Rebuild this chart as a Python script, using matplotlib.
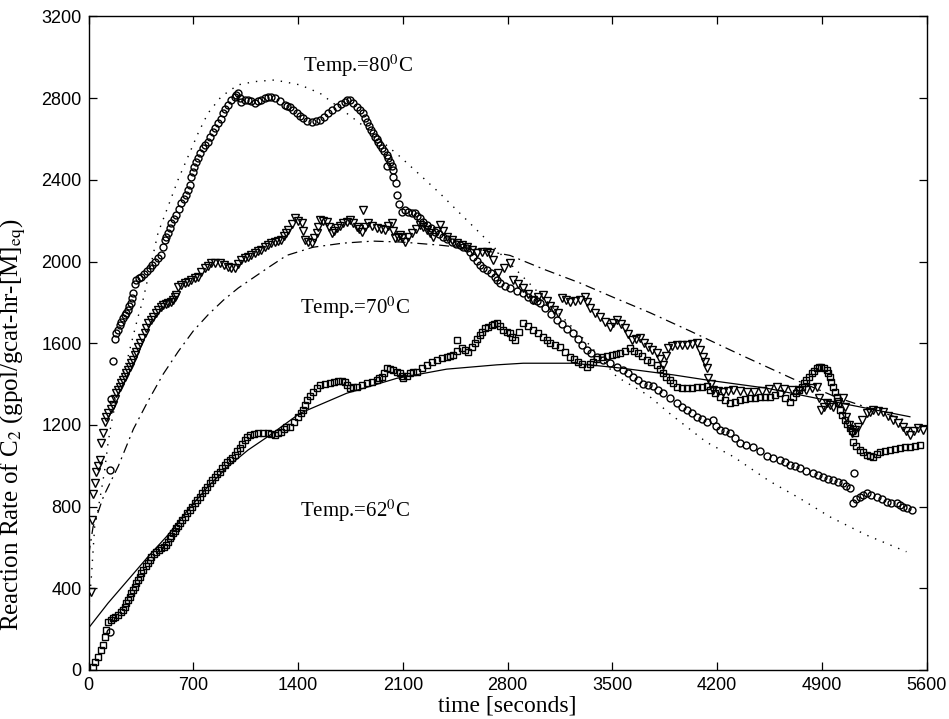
import matplotlib
matplotlib.use("Agg")
import matplotlib.pyplot as plt

plt.rcParams['mathtext.fontset'] = 'stix'

pts80 = [(144, 979), (144, 188), (152, 1326), (164, 1515), (175, 1620), (186, 1650), (197, 1665), (208, 1690),
         (219, 1706), (230, 1725), (242, 1738), (253, 1750), (264, 1763), (273, 1780), (282, 1796), (290, 1820),
         (297, 1845), (308, 1890), (319, 1910), (336, 1918), (353, 1926), (370, 1940), (390, 1955), (409, 1968),
         (425, 1985), (442, 2000), (464, 2015), (486, 2033), (498, 2070), (509, 2106), (520, 2120), (531, 2139),
         (542, 2165), (553, 2188), (570, 2210), (587, 2228), (603, 2255), (620, 2285), (636, 2305), (653, 2326),
         (665, 2350), (676, 2375), (687, 2416), (696, 2440), (705, 2465), (718, 2485), (732, 2505), (748, 2530),
         (765, 2555), (780, 2570), (798, 2587), (815, 2610), (832, 2636), (848, 2655), (865, 2677), (882, 2700),
         (899, 2726), (915, 2745), (932, 2767), (955, 2790), (977, 2808), (988, 2815), (999, 2824), (1010, 2800),
         (1021, 2783), (1044, 2790), (1066, 2791), (1088, 2785), (1110, 2775), (1132, 2785), (1154, 2791),
         (1177, 2800), (1199, 2808), (1222, 2805), (1244, 2800), (1277, 2785), (1311, 2767), (1328, 2762),
         (1346, 2759), (1368, 2742), (1391, 2726), (1413, 2712), (1435, 2702), (1463, 2690), (1491, 2685),
         (1519, 2688), (1547, 2693), (1575, 2710), (1602, 2726), (1630, 2742), (1658, 2759), (1686, 2772),
         (1714, 2783), (1730, 2790), (1747, 2791), (1770, 2775), (1792, 2759), (1814, 2742), (1836, 2726),
         (1850, 2705), (1863, 2685), (1875, 2665), (1885, 2644), (1900, 2628), (1914, 2612), (1925, 2600),
         (1936, 2587), (1948, 2570), (1959, 2555), (1975, 2540), (1992, 2522), (1995, 2467), (2003, 2505),
         (2014, 2489), (2025, 2470), (2036, 2449), (2036, 2416), (2054, 2383), (2063, 2326), (2076, 2282),
         (2092, 2244), (2115, 2250), (2137, 2244), (2160, 2240), (2181, 2236), (2198, 2225), (2215, 2212),
         (2238, 2195), (2260, 2179), (2288, 2162), (2315, 2146), (2342, 2135), (2370, 2122), (2398, 2110),
         (2427, 2097), (2455, 2088), (2482, 2081), (2505, 2072), (2527, 2065), (2549, 2045), (2571, 2024),
         (2594, 2003), (2616, 1983), (2638, 1970), (2660, 1959), (2688, 1942), (2716, 1926), (2733, 1910),
         (2749, 1894), (2782, 1880), (2816, 1870), (2860, 1858), (2905, 1845), (2940, 1828), (2972, 1812),
         (2995, 1805), (3016, 1796), (3050, 1770), (3090, 1742), (3128, 1714), (3165, 1692), (3200, 1670),
         (3239, 1649), (3270, 1620), (3300, 1592), (3328, 1567), (3360, 1550), (3395, 1534), (3440, 1518),
         (3484, 1502), (3530, 1485), (3573, 1469), (3607, 1452), (3640, 1436), (3675, 1418), (3707, 1400),
         (3740, 1395), (3773, 1390), (3806, 1372), (3840, 1355), (3885, 1330), (3930, 1306), (3964, 1290),
         (3997, 1273), (4030, 1256), (4063, 1240), (4097, 1228), (4130, 1215), (4174, 1224), (4195, 1195),
         (4219, 1175), (4252, 1168), (4286, 1160), (4320, 1135), (4352, 1110), (4397, 1102), (4442, 1094),
         (4486, 1072), (4531, 1050), (4575, 1040), (4620, 1030), (4654, 1017), (4687, 1004), (4720, 997),
         (4754, 990), (4798, 976), (4842, 963), (4875, 954), (4909, 945), (4942, 937), (4976, 930), (5010, 922),
         (5043, 914), (5065, 902), (5088, 890), (5114, 963), (5110, 816), (5132, 835), (5154, 849), (5177, 858),
         (5199, 865), (5232, 857), (5266, 849), (5300, 836), (5333, 824), (5366, 820), (5400, 816), (5422, 808),
         (5444, 800), (5472, 792), (5500, 784)]

pts70 = [(19, 383), (23, 735), (30, 862), (41, 917), (52, 971), (64, 1000), (75, 1028), (86, 1110), (97, 1159),
         (108, 1216), (119, 1240), (130, 1257), (147, 1278), (164, 1298), (175, 1325), (186, 1355), (197, 1372),
         (208, 1387), (219, 1405), (230, 1420), (242, 1437), (253, 1453), (264, 1470), (275, 1485), (286, 1502),
         (297, 1518), (308, 1540), (319, 1559), (331, 1580), (342, 1600), (358, 1625), (375, 1649), (386, 1675),
         (398, 1698), (415, 1715), (431, 1730), (448, 1748), (464, 1763), (481, 1775), (498, 1787), (515, 1792),
         (531, 1796), (548, 1803), (565, 1812), (576, 1825), (587, 1836), (598, 1877), (620, 1885), (643, 1894),
         (665, 1902), (687, 1910), (710, 1918), (732, 1926), (754, 1948), (776, 1968), (798, 1980), (820, 1992),
         (848, 1995), (876, 1992), (904, 1982), (932, 1975), (955, 1970), (977, 1968), (999, 1990), (1021, 2008),
         (1044, 2016), (1066, 2024), (1088, 2032), (1110, 2041), (1132, 2050), (1154, 2057), (1177, 2070),
         (1199, 2081), (1222, 2090), (1244, 2097), (1266, 2100), (1288, 2106), (1305, 2125), (1321, 2139),
         (1335, 2155), (1358, 2185), (1380, 2212), (1402, 2200), (1424, 2188), (1435, 2150), (1446, 2106),
         (1468, 2098), (1491, 2090), (1508, 2115), (1525, 2139), (1536, 2170), (1547, 2204), (1570, 2200),
         (1591, 2196), (1608, 2168), (1625, 2139), (1642, 2150), (1658, 2163), (1680, 2175), (1702, 2188),
         (1725, 2196), (1747, 2204), (1770, 2188), (1792, 2171), (1808, 2160), (1825, 2146), (1836, 2253),
         (1848, 2170), (1869, 2188), (1897, 2175), (1925, 2163), (1953, 2158), (1981, 2155), (2004, 2172),
         (2026, 2188), (2037, 2150), (2048, 2114), (2065, 2122), (2081, 2130), (2098, 2113), (2115, 2097),
         (2137, 2118), (2159, 2139), (2187, 2160), (2215, 2179), (2238, 2167), (2260, 2155), (2282, 2138),
         (2304, 2122), (2326, 2150), (2348, 2179), (2370, 2150), (2393, 2122), (2427, 2106), (2460, 2090),
         (2494, 2082), (2527, 2073), (2560, 2057), (2594, 2041), (2627, 2045), (2660, 2049), (2682, 2043),
         (2705, 2008), (2738, 1943), (2777, 1968), (2816, 1993), (2838, 1910), (2872, 1890), (2905, 1869),
         (2938, 1840), (2972, 1812), (3005, 1825), (3039, 1837), (3061, 1808), (3083, 1780), (3111, 1763),
         (3139, 1747), (3161, 1820), (3189, 1812), (3217, 1804), (3250, 1808), (3284, 1812), (3317, 1828),
         (3334, 1800), (3351, 1771), (3384, 1750), (3417, 1730), (3450, 1705), (3484, 1681), (3506, 1697),
         (3529, 1714), (3556, 1693), (3584, 1673), (3606, 1645), (3629, 1616), (3657, 1620), (3685, 1624),
         (3712, 1603), (3740, 1583), (3768, 1567), (3796, 1551), (3818, 1522), (3840, 1494), (3857, 1535),
         (3874, 1575), (3902, 1584), (3930, 1592), (3963, 1592), (3997, 1592), (4030, 1596), (4063, 1600),
         (4085, 1567), (4107, 1534), (4118, 1506), (4130, 1478), (4141, 1429), (4158, 1400), (4175, 1371),
         (4208, 1365), (4240, 1360), (4274, 1366), (4308, 1371), (4354, 1365), (4400, 1360), (4450, 1362),
         (4500, 1365), (4550, 1376), (4598, 1387), (4650, 1378), (4700, 1370), (4750, 1370), (4798, 1371),
         (4832, 1380), (4865, 1387), (4880, 1330), (4898, 1273), (4915, 1290), (4932, 1306), (4954, 1298),
         (4976, 1290), (5010, 1310), (5043, 1331), (5054, 1286), (5065, 1241), (5082, 1200), (5099, 1159),
         (5121, 1175), (5143, 1192), (5171, 1225), (5199, 1257), (5222, 1265), (5244, 1273), (5277, 1269),
         (5311, 1265), (5345, 1245), (5378, 1224), (5411, 1208), (5444, 1192), (5466, 1172), (5489, 1151),
         (5516, 1168), (5544, 1184), (5575, 1175)]

pts62 = [(30, 16), (45, 41), (63, 65), (81, 98), (97, 122), (108, 163), (119, 196), (130, 237), (147, 245),
         (164, 253), (180, 261), (197, 269), (214, 282), (230, 294), (242, 310), (253, 327), (264, 343), (275, 359),
         (286, 375), (297, 392), (308, 408), (319, 425), (331, 441), (342, 457), (353, 474), (364, 490), (381, 507),
         (398, 523), (409, 539), (420, 555), (437, 567), (453, 579), (470, 588), (486, 596), (503, 604), (520, 612),
         (531, 628), (542, 645), (553, 657), (565, 669), (576, 682), (587, 694), (598, 706), (609, 718), (626, 735),
         (643, 751), (660, 768), (676, 784), (693, 800), (709, 816), (726, 833), (743, 849), (760, 865), (776, 881),
         (793, 898), (810, 914), (826, 930), (843, 947), (860, 959), (876, 971), (893, 988), (910, 1004),
         (926, 1016), (943, 1028), (960, 1040), (977, 1053), (994, 1070), (1010, 1086), (1027, 1106), (1044, 1126),
         (1060, 1140), (1077, 1151), (1105, 1157), (1132, 1159), (1165, 1160), (1199, 1159), (1222, 1155),
         (1244, 1151), (1266, 1159), (1288, 1167), (1305, 1180), (1321, 1192), (1346, 1192), (1374, 1216),
         (1402, 1241), (1418, 1257), (1435, 1273), (1447, 1297), (1458, 1322), (1480, 1343), (1502, 1363),
         (1525, 1380), (1547, 1396), (1580, 1400), (1613, 1404), (1641, 1410), (1669, 1417), (1692, 1415),
         (1714, 1412), (1730, 1396), (1747, 1380), (1770, 1384), (1792, 1387), (1825, 1396), (1859, 1404),
         (1892, 1412), (1925, 1420), (1942, 1428), (1959, 1436), (1976, 1456), (1992, 1477), (2014, 1473),
         (2036, 1469), (2059, 1461), (2081, 1453), (2092, 1440), (2103, 1428), (2126, 1440), (2148, 1453),
         (2170, 1457), (2193, 1461), (2226, 1478), (2260, 1494), (2293, 1506), (2326, 1518), (2360, 1526),
         (2393, 1534), (2415, 1538), (2437, 1543), (2460, 1616), (2465, 1560), (2493, 1575), (2516, 1567),
         (2538, 1559), (2560, 1580), (2582, 1600), (2599, 1620), (2616, 1640), (2632, 1656), (2649, 1673),
         (2672, 1681), (2694, 1689), (2710, 1694), (2727, 1698), (2749, 1682), (2771, 1665), (2794, 1657),
         (2816, 1649), (2833, 1632), (2849, 1616), (2877, 1657), (2905, 1698), (2938, 1682), (2972, 1665),
         (3005, 1648), (3039, 1632), (3061, 1616), (3083, 1600), (3117, 1592), (3150, 1583), (3183, 1558),
         (3217, 1534), (3245, 1522), (3273, 1510), (3300, 1497), (3328, 1485), (3350, 1497), (3373, 1510),
         (3401, 1522), (3429, 1534), (3462, 1538), (3495, 1543), (3523, 1547), (3551, 1551), (3585, 1563),
         (3618, 1575), (3645, 1563), (3673, 1551), (3701, 1535), (3729, 1518), (3762, 1506), (3796, 1494),
         (3818, 1474), (3840, 1453), (3862, 1436), (3885, 1420), (3907, 1404), (3930, 1387), (3963, 1383),
         (3997, 1380), (4030, 1383), (4063, 1387), (4097, 1388), (4130, 1390), (4152, 1371), (4186, 1354),
         (4219, 1338), (4252, 1322), (4286, 1306), (4320, 1314), (4353, 1322), (4386, 1326), (4420, 1330),
         (4453, 1334), (4487, 1338), (4520, 1338), (4553, 1338), (4586, 1347), (4620, 1355), (4653, 1334),
         (4687, 1314), (4709, 1335), (4731, 1355), (4748, 1371), (4765, 1387), (4781, 1403), (4798, 1420),
         (4815, 1437), (4832, 1453), (4848, 1465), (4865, 1477), (4882, 1482), (4898, 1485), (4915, 1477),
         (4932, 1469), (4943, 1452), (4954, 1436), (4965, 1412), (4976, 1387), (4988, 1362), (4999, 1338),
         (5010, 1305), (5021, 1273), (5038, 1248), (5054, 1224), (5071, 1204), (5088, 1184), (5104, 1170),
         (5121, 1159), (5110, 1118), (5132, 1097), (5154, 1077), (5177, 1065), (5199, 1053), (5222, 1049),
         (5244, 1045), (5266, 1057), (5288, 1069), (5322, 1073), (5355, 1077), (5389, 1082), (5422, 1086),
         (5456, 1090), (5489, 1094), (5522, 1098), (5556, 1102)]

# ---- model curves (time [s], rate) ----
model80 = [(5, 330), (19, 457), (41, 702), (63, 784), (86, 881), (108, 979), (130, 1110), (152, 1208), (175, 1289),
           (197, 1371), (230, 1453), (264, 1534), (297, 1632), (331, 1730), (364, 1812), (464, 2139), (531, 2269),
           (598, 2400), (665, 2514), (732, 2628), (798, 2726), (887, 2808), (999, 2865), (1110, 2881), (1244, 2889),
           (1413, 2865), (1547, 2824), (1680, 2751), (1814, 2677), (1948, 2596), (2081, 2514), (2215, 2424),
           (2348, 2334), (2482, 2236), (2616, 2139), (2727, 2057), (2950, 1890), (3150, 1740), (3350, 1590),
           (3529, 1436), (3740, 1345), (3885, 1255), (4130, 1115), (4308, 1045), (4550, 925), (4754, 840),
           (4954, 750), (5200, 660), (5466, 579)]

model70 = [(0, 560), (30, 700), (100, 850), (200, 1000), (300, 1180), (400, 1320), (500, 1450), (600, 1560),
           (700, 1660), (800, 1740), (900, 1810), (1000, 1870), (1100, 1920), (1200, 1970), (1324, 2030),
           (1500, 2070), (1700, 2090), (1900, 2100), (2100, 2095), (2350, 2080), (2600, 2060), (2816, 2030),
           (3050, 1960), (3284, 1895), (3506, 1825), (3750, 1750), (4019, 1660), (4352, 1545), (4709, 1425),
           (5000, 1335), (5450, 1225)]

model62 = [(0, 205), (130, 327), (264, 441), (398, 555), (531, 661), (665, 784), (798, 898), (932, 996),
           (1066, 1077), (1199, 1143), (1413, 1257), (1725, 1355), (2059, 1428), (2393, 1473), (2727, 1494),
           (2905, 1502), (3239, 1502), (3573, 1477), (3907, 1445), (4130, 1420), (4531, 1380), (4976, 1314),
           (5489, 1240)]

xticks = [0, 700, 1400, 2100, 2800, 3500, 4200, 4900, 5600]
yticks = [0, 400, 800, 1200, 1600, 2000, 2400, 2800, 3200]


def unzip(p):
    return [a for a, _ in p], [b for _, b in p]


fig = plt.figure(figsize=(9.49, 7.19), dpi=100)
ax = fig.add_axes([0.0933, 0.0682, 0.883, 0.9089])

mk = dict(linestyle='none', markerfacecolor='none', markeredgecolor='black', markeredgewidth=1.0)
x, y = unzip(pts80)
ax.plot(x, y, marker='o', markersize=5, **mk)
x, y = unzip(pts70)
ax.plot(x, y, marker='v', markersize=6, **mk)
x, y = unzip(pts62)
ax.plot(x, y, marker='s', markersize=4.5, **mk)

x, y = unzip(model80)
ax.plot(x, y, color='black', linewidth=1.0, linestyle=(0, (1, 5)))
x, y = unzip(model70)
ax.plot(x, y, color='black', linewidth=0.9, linestyle=(0, (8, 4, 1.5, 4)))
x, y = unzip(model62)
ax.plot(x, y, color='black', linewidth=0.9, linestyle='-')

serif = ['Liberation Serif', 'DejaVu Serif']
ax.text(1430, 2960, r'Temp.=80$^{0}$C', fontsize=15, family=serif, va='center', ha='left')
ax.text(1415, 1775, r'Temp.=70$^{0}$C', fontsize=15, family=serif, va='center', ha='left')
ax.text(1415, 780, r'Temp.=62$^{0}$C', fontsize=15, family=serif, va='center', ha='left')

ax.set_xlim(0, 5600)
ax.set_ylim(0, 3200)
ax.set_xticks(xticks)
ax.set_yticks(yticks)
sans = ['Liberation Sans', 'DejaVu Sans']
ax.set_xticklabels([str(v) for v in xticks], family=sans, fontsize=13)
ax.set_yticklabels([str(v) for v in yticks], family=sans, fontsize=13)
ax.tick_params(direction='in', length=6, width=0.9, top=True, right=True, pad=5)
for s in ax.spines.values():
    s.set_linewidth(1.0)

ax.set_xlabel('time [seconds]', family=serif, fontsize=17, labelpad=1)
ax.set_ylabel(r'Reaction Rate of C$_{2}$ (gpol/gcat-hr-[M]$_{\mathrm{eq}}$)', family=serif, fontsize=18,
              labelpad=4)
ax.yaxis.set_label_coords(-0.072, 0.375)

fig.savefig('out.png', dpi=100)
